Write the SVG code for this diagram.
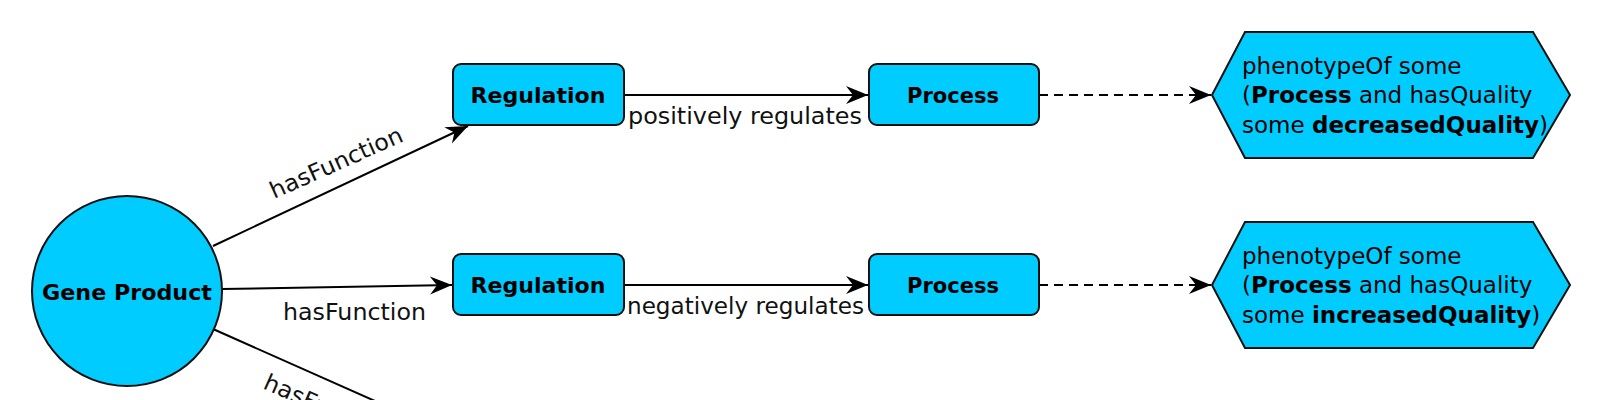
<svg xmlns="http://www.w3.org/2000/svg" width="1600" height="400" viewBox="0 0 1600 400">
<style>
.node{fill:#00CCFF;stroke:#111;stroke-width:2}
.lbl{font-family:"DejaVu Sans",sans-serif;font-weight:bold;font-size:22px;fill:#000}
.elbl{font-family:"DejaVu Sans",sans-serif;font-size:23px;fill:#111}
.htxt{font-family:"DejaVu Sans",sans-serif;font-size:23px;fill:#000}
.edge{stroke:#000;stroke-width:2;fill:none}
.dash{stroke-dasharray:9 6}
</style>
<defs>
<marker id="arr" viewBox="-23 -10 24 20" refX="0" refY="0" markerWidth="24" markerHeight="20" markerUnits="userSpaceOnUse" orient="auto">
<path d="M0,0 L-22,-9 L-15,0 L-22,9 Z" fill="#000"/>
</marker>
</defs>
<rect width="1600" height="400" fill="#fff"/>
<g id="connectors">
<line class="edge" x1="213" y1="246" x2="468" y2="126" marker-end="url(#arr)"/>
<text class="elbl" transform="translate(274,199) rotate(-24)" textLength="143" lengthAdjust="spacingAndGlyphs">hasFunction</text>
<line class="edge" x1="222" y1="289" x2="452" y2="285" marker-end="url(#arr)"/>
<text class="elbl" x="283" y="320" textLength="143" lengthAdjust="spacingAndGlyphs">hasFunction</text>
<line class="edge" x1="213" y1="329" x2="420" y2="421"/>
<text class="elbl" transform="translate(262,388) rotate(24)" textLength="143" lengthAdjust="spacingAndGlyphs">hasFunction</text>
<line class="edge" x1="624" y1="95" x2="868" y2="95" marker-end="url(#arr)"/>
<text class="elbl" x="628" y="124" textLength="234" lengthAdjust="spacingAndGlyphs">positively regulates</text>
<line class="edge" x1="624" y1="285" x2="868" y2="285" marker-end="url(#arr)"/>
<text class="elbl" x="627" y="314" textLength="237" lengthAdjust="spacingAndGlyphs">negatively regulates</text>
<line class="edge dash" x1="1039" y1="95" x2="1211" y2="95" marker-end="url(#arr)"/>
<line class="edge dash" x1="1039" y1="285" x2="1211" y2="285" marker-end="url(#arr)"/>
</g>
<g id="gene-product">
<circle class="node" cx="127" cy="291" r="95"/>
<text class="lbl" x="127" y="300" text-anchor="middle" textLength="170" lengthAdjust="spacingAndGlyphs">Gene Product</text>
</g>
<g id="regulation-1">
<rect class="node" x="453" y="64" width="171" height="61" rx="8"/>
<text class="lbl" x="538" y="103" text-anchor="middle" textLength="135" lengthAdjust="spacingAndGlyphs">Regulation</text>
</g>
<g id="process-1">
<rect class="node" x="869" y="64" width="170" height="61" rx="8"/>
<text class="lbl" x="953" y="103" text-anchor="middle" textLength="92" lengthAdjust="spacingAndGlyphs">Process</text>
</g>
<g id="regulation-2">
<rect class="node" x="453" y="254" width="171" height="61" rx="8"/>
<text class="lbl" x="538" y="293" text-anchor="middle" textLength="135" lengthAdjust="spacingAndGlyphs">Regulation</text>
</g>
<g id="process-2">
<rect class="node" x="869" y="254" width="170" height="61" rx="8"/>
<text class="lbl" x="953" y="293" text-anchor="middle" textLength="92" lengthAdjust="spacingAndGlyphs">Process</text>
</g>
<g id="phenotype-decreased">
<polygon class="node" points="1212,95 1245,32 1533,32 1570,95 1533,158 1245,158"/>
<text class="htxt" x="1242" y="74">phenotypeOf some</text>
<text class="htxt" x="1242" y="103">(<tspan font-weight="bold">Process</tspan> and hasQuality</text>
<text class="htxt" x="1242" y="133">some <tspan font-weight="bold">decreasedQuality</tspan>)</text>
</g>
<g id="phenotype-increased">
<polygon class="node" points="1212,285 1245,222 1533,222 1570,285 1533,348 1245,348"/>
<text class="htxt" x="1242" y="264">phenotypeOf some</text>
<text class="htxt" x="1242" y="293">(<tspan font-weight="bold">Process</tspan> and hasQuality</text>
<text class="htxt" x="1242" y="323">some <tspan font-weight="bold">increasedQuality</tspan>)</text>
</g>
</svg>
